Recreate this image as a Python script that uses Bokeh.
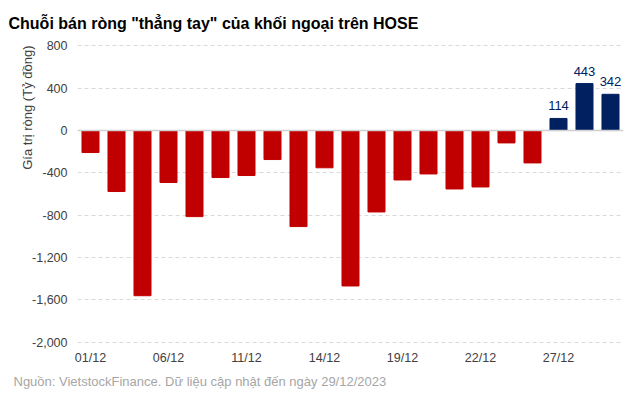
from bokeh.plotting import figure
from bokeh.core.properties import value
from bokeh.models import (ColumnDataSource, Range1d, FixedTicker, NumeralTickFormatter,
                          Title, Span, LabelSet)
from bokeh.embed import file_html
from bokeh.resources import INLINE

dates = ["01/12", "04/12", "05/12", "06/12", "07/12", "08/12", "11/12", "12/12", "13/12",
         "14/12", "15/12", "18/12", "19/12", "20/12", "21/12", "22/12", "25/12", "26/12",
         "27/12", "28/12", "29/12"]
values = [-208, -576, -1560, -491, -813, -444, -425, -274, -907, -352, -1468, -769,
          -467, -410, -552, -533, -117, -306, 114, 443, 342]
shown_ticks = ["01/12", "06/12", "11/12", "14/12", "19/12", "22/12", "27/12"]
y_ticks = [-2000, -1600, -1200, -800, -400, 0, 400, 800]

RED = "#C00000"
NAVY = "#002060"
FONT = "Liberation Sans"

idx = list(range(len(dates)))
colors = [RED if v < 0 else NAVY for v in values]
pos_x = [i for i, v in zip(idx, values) if v > 0]
pos_v = [v for v in values if v > 0]

src = ColumnDataSource(dict(x=idx, top=values, color=colors))
lab_src = ColumnDataSource(dict(x=pos_x, y=pos_v, text=[str(v) for v in pos_v]))

p = figure(width=640, height=397, output_backend="svg", toolbar_location=None,
           x_range=Range1d(-0.5, len(dates) - 0.5), y_range=Range1d(-2030, 850),
           min_border_left=77, min_border_right=17, min_border_top=40, min_border_bottom=52)
p.outline_line_color = None
p.background_fill_color = "white"
p.border_fill_color = "white"

p.vbar(x="x", top="top", bottom=0, width=0.655, color="color", source=src)

labels = LabelSet(x="x", y="y", text="text", source=lab_src, text_align="center",
                  text_baseline="bottom", y_offset=8, text_font=value(FONT),
                  text_font_size=value("13px"), text_color=NAVY)
p.add_layout(labels)

p.add_layout(Span(location=0, dimension="width", line_color="#D0D0D0", line_width=1.5))

# axes
p.xaxis.ticker = FixedTicker(ticks=[dates.index(d) for d in shown_ticks])
p.xaxis.major_label_overrides = {dates.index(d): d for d in shown_ticks}
p.yaxis.ticker = FixedTicker(ticks=y_ticks)
p.yaxis.formatter = NumeralTickFormatter(format="0,0")
for ax in (p.xaxis[0], p.yaxis[0]):
    ax.axis_line_color = None
    ax.major_tick_line_color = None
    ax.minor_tick_line_color = None
    ax.major_tick_out = 0
    ax.major_tick_in = 0
    ax.minor_tick_out = 0
    ax.major_label_text_font = FONT
    ax.major_label_text_font_size = "12.5px"
    ax.major_label_text_color = "#404040"
p.xaxis.major_label_standoff = 5
p.yaxis.major_label_standoff = 10

p.xgrid.grid_line_color = None
p.ygrid.grid_line_color = "#D9D9D9"
p.ygrid.grid_line_dash = "4 3"

# titles
p.title = Title(text='Chuỗi bán ròng "thẳng tay" của khối ngoại trên HOSE',
                text_font=FONT, text_font_size="16px",
                text_font_style="bold", text_color="#000000", offset=-69, standoff=17)
p.add_layout(Title(text="Gía trị ròng (Tỷ đồng)", align="right", text_font=FONT,
                   text_font_size="13px", text_font_style="normal",
                   text_color="#404040", standoff=-11, offset=5), "left")
p.add_layout(Title(text="Nguồn: VietstockFinance. Dữ liệu cập nhật đến ngày 29/12/2023",
                   align="left", text_font=FONT, text_font_size="13px",
                   text_font_style="normal", text_color="#A6A6A6",
                   offset=-64, standoff=8), "below")

open("out.html", "w").write(file_html(p, INLINE))
